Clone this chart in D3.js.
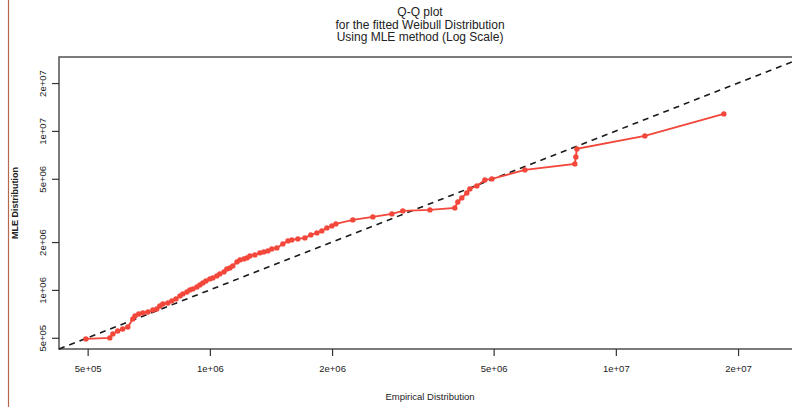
<!DOCTYPE html>
<html>
<head>
<meta charset="utf-8">
<script src="https://cdn.jsdelivr.net/npm/d3@7"></script>
<style>
  html, body { margin: 0; padding: 0; background: #ffffff; }
  svg { display: block; }
  text { font-family: "Liberation Sans", Arial, sans-serif; fill: #222; }
</style>
</head>
<body>
<svg id="chart" width="792" height="407"></svg>
<script>
// ---- data ----
const empirical = [495000,567000,577000,593000,610000,628000,646000,654000,668000,684000,704000,724000,740000,753000,766000,788000,806000,825000,844000,858000,878000,893000,908000,929000,945000,961000,978000,1000000,1017000,1040000,1058000,1083000,1101000,1120000,1139000,1166000,1186000,1213000,1234000,1255000,1291000,1328000,1358000,1390000,1421000,1462000,1513000,1557000,1592000,1647000,1714000,1773000,1835000,1887000,1942000,1997000,2043000,2250000,2520000,2807000,2987000,3483000,4012000,4081000,4174000,4295000,4369000,4546000,4757000,4950000,5969000,7925000,7970000,8016000,11789000,18450000];
const mleQuantiles = [492000,499000,529000,552000,568000,585000,657000,686000,706000,717000,727000,748000,759000,793000,816000,828000,853000,878000,917000,944000,971000,1000000,1015000,1044000,1075000,1107000,1139000,1173000,1190000,1225000,1261000,1298000,1355000,1375000,1416000,1500000,1544000,1567000,1590000,1636000,1660000,1709000,1734000,1759000,1811000,1837000,1947000,2033000,2063000,2093000,2124000,2218000,2283000,2350000,2455000,2527000,2601000,2756000,2879000,3006000,3140000,3186000,3280000,3576000,3790000,4074000,4318000,4510000,4918000,4990000,5685000,6201000,6863000,7706000,9302000,12793000];
const tickValues = [5e5, 1e6, 2e6, 5e6, 1e7, 2e7];
const tickLabels = ["5e+05", "1e+06", "2e+06", "5e+06", "1e+07", "2e+07"];
const axisLimits = [4.25e5, 2.917e7];
const titleLines = ["Q-Q plot", "for the fitted Weibull Distribution", "Using MLE method (Log Scale)"];
const xTitle = "Empirical Distribution";
const yTitle = "MLE Distribution";

// ---- layout ----
const mLeft = 59, mTop = 57, mBottom = 349, mRight = 804.6;
const narrow = "'Liberation Sans Narrow', 'Liberation Sans', Arial, sans-serif";
const svg = d3.select("#chart");

const x = d3.scaleLog().domain(axisLimits).range([mLeft, mRight]);
const y = d3.scaleLog().domain(axisLimits).range([mBottom, mTop]);

// outer left border of the original figure
svg.append("line").attr("x1", 8.5).attr("x2", 8.5).attr("y1", 0).attr("y2", 407)
  .attr("stroke", "#b4694a").attr("stroke-width", 1.2);

// plot box
svg.append("rect").attr("x", mLeft).attr("y", mTop)
  .attr("width", mRight - mLeft).attr("height", mBottom - mTop)
  .attr("fill", "none").attr("stroke", "#444").attr("stroke-width", 1.4);

// axes
const fmt = (d) => tickLabels[tickValues.indexOf(d)];
const xAxis = svg.append("g").attr("transform", `translate(0,${mBottom})`)
  .call(d3.axisBottom(x).tickValues(tickValues).tickFormat(fmt).tickSize(7).tickPadding(9));
const yAxis = svg.append("g").attr("transform", `translate(${mLeft},0)`)
  .call(d3.axisLeft(y).tickValues(tickValues).tickFormat(fmt).tickSize(7).tickPadding(6));
[xAxis, yAxis].forEach(g => {
  g.select(".domain").remove();
  g.selectAll(".tick line").attr("stroke", "#333").attr("stroke-width", 1.2);
  g.selectAll(".tick text").attr("font-size", 9.5).attr("fill", "#222")
    .style("font-family", narrow);
});
yAxis.selectAll(".tick text")
  .attr("transform", "rotate(-90)")
  .attr("text-anchor", "middle")
  .attr("x", 0)
  .attr("y", -13)
  .attr("dy", "0");

// 1:1 reference line
svg.append("line")
  .attr("x1", x(axisLimits[0])).attr("y1", y(axisLimits[0]))
  .attr("x2", x(axisLimits[1])).attr("y2", y(axisLimits[1]))
  .attr("stroke", "#1a1a1a").attr("stroke-width", 1.6)
  .attr("stroke-dasharray", "6,5");

// data line + points
const pts = empirical.map((v, i) => [v, mleQuantiles[i]]);
svg.append("path").datum(pts)
  .attr("fill", "none").attr("stroke", "#f2473a").attr("stroke-width", 1.9)
  .attr("d", d3.line().x(d => x(d[0])).y(d => y(d[1])));
svg.append("g").selectAll("circle").data(pts).join("circle")
  .attr("cx", d => x(d[0])).attr("cy", d => y(d[1])).attr("r", 2.7)
  .attr("fill", "#f2473a");

// titles
svg.append("g").selectAll("text").data(titleLines).join("text")
  .attr("x", 420).attr("y", (d, i) => 16 + i * 12.5)
  .attr("text-anchor", "middle").attr("font-size", 12)
  .text(d => d);

svg.append("text").attr("x", 430).attr("y", 400)
  .attr("text-anchor", "middle").attr("font-size", 9.5)
  .style("font-family", narrow)
  .text(xTitle);

svg.append("text")
  .attr("transform", `translate(18,${(mTop + mBottom) / 2}) rotate(-90)`)
  .attr("text-anchor", "middle").attr("font-size", 9).attr("font-weight", "bold")
  .style("font-family", narrow)
  .text(yTitle);
</script>
</body>
</html>
